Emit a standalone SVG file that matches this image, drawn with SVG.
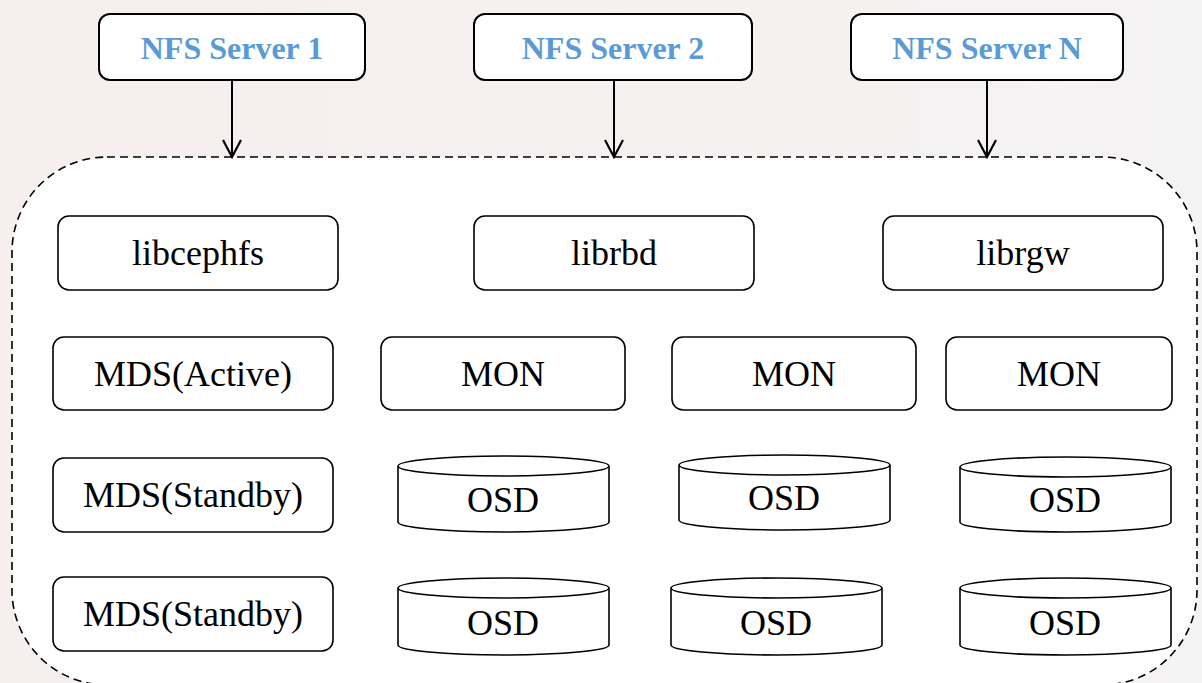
<svg xmlns="http://www.w3.org/2000/svg" width="1202" height="683" viewBox="0 0 1202 683">
<defs>
<linearGradient id="bg" x1="0" y1="0" x2="1" y2="0">
<stop offset="0" stop-color="#f7eeee"/>
<stop offset="1" stop-color="#f4f3f3"/>
</linearGradient>
<marker id="arr" viewBox="0 0 20 20" refX="18" refY="10" markerWidth="20" markerHeight="20" markerUnits="userSpaceOnUse" orient="auto">
<path d="M1,1 L18,10 L1,19" fill="none" stroke="#000" stroke-width="2.2"/>
</marker>
<style>
.box{fill:#fff;stroke:#000;stroke-width:1.6}
.srv{fill:#fff;stroke:#000;stroke-width:2}
.t{font-family:"Liberation Serif","DejaVu Serif",serif;font-size:36px;fill:#000;text-anchor:middle}
.s{font-family:"Liberation Serif","DejaVu Serif",serif;font-size:32px;font-weight:bold;fill:#5b9bd5;text-anchor:middle}
.cyl{fill:#fff;stroke:#000;stroke-width:1.6}
</style>
</defs>
<rect width="1202" height="683" fill="url(#bg)"/>
<g id="cluster">
<rect x="12" y="157" width="1185" height="528" rx="95" ry="95" fill="#fff" stroke="#000" stroke-width="1.6" stroke-dasharray="8,5"/>
</g>
<g id="connectors">
<line x1="232" y1="80" x2="232" y2="157" stroke="#000" stroke-width="2" marker-end="url(#arr)"/>
<line x1="614" y1="80" x2="614" y2="157" stroke="#000" stroke-width="2" marker-end="url(#arr)"/>
<line x1="987" y1="80" x2="987" y2="157" stroke="#000" stroke-width="2" marker-end="url(#arr)"/>
</g>
<g id="nfs1"><rect class="srv" x="99" y="14" width="266" height="66" rx="11"/><text class="s" x="232" y="59">NFS Server 1</text></g>
<g id="nfs2"><rect class="srv" x="474" y="14" width="278" height="66" rx="11"/><text class="s" x="613" y="59">NFS Server 2</text></g>
<g id="nfsN"><rect class="srv" x="851" y="14" width="272" height="66" rx="11"/><text class="s" x="987" y="59">NFS Server N</text></g>
<g id="libcephfs"><rect class="box" x="58" y="216" width="280" height="74" rx="11"/><text class="t" x="198" y="265">libcephfs</text></g>
<g id="librbd"><rect class="box" x="474" y="216" width="280" height="74" rx="11"/><text class="t" x="614" y="265">librbd</text></g>
<g id="librgw"><rect class="box" x="883" y="216" width="280" height="74" rx="11"/><text class="t" x="1023" y="265">librgw</text></g>
<g id="mds-active"><rect class="box" x="53" y="337" width="280" height="73" rx="11"/><text class="t" x="193" y="386">MDS(Active)</text></g>
<g id="mon1"><rect class="box" x="381" y="337" width="244" height="73" rx="11"/><text class="t" x="503" y="386">MON</text></g>
<g id="mon2"><rect class="box" x="672" y="337" width="244" height="73" rx="11"/><text class="t" x="794" y="386">MON</text></g>
<g id="mon3"><rect class="box" x="946" y="337" width="226" height="73" rx="11"/><text class="t" x="1059" y="386">MON</text></g>
<g id="mds-standby1"><rect class="box" x="53" y="458" width="280" height="74" rx="11"/><text class="t" x="193" y="507">MDS(Standby)</text></g>
<g id="mds-standby2"><rect class="box" x="53" y="577" width="280" height="74" rx="11"/><text class="t" x="193" y="626">MDS(Standby)</text></g>
<g id="osd1"><path class="cyl" d="M398,466 L398,522 A105.5,10 0 0 0 609,522 L609,466 A105.5,10 0 0 0 398,466 A105.5,10 0 0 0 609,466"/><text class="t" x="503" y="512">OSD</text></g>
<g id="osd2"><path class="cyl" d="M679,465 L679,520 A105.5,10 0 0 0 890,520 L890,465 A105.5,10 0 0 0 679,465 A105.5,10 0 0 0 890,465"/><text class="t" x="784" y="510">OSD</text></g>
<g id="osd3"><path class="cyl" d="M960,467 L960,522 A105.5,10 0 0 0 1171,522 L1171,467 A105.5,10 0 0 0 960,467 A105.5,10 0 0 0 1171,467"/><text class="t" x="1065" y="512">OSD</text></g>
<g id="osd4"><path class="cyl" d="M398,588 L398,645 A105.5,10 0 0 0 609,645 L609,588 A105.5,10 0 0 0 398,588 A105.5,10 0 0 0 609,588"/><text class="t" x="503" y="635">OSD</text></g>
<g id="osd5"><path class="cyl" d="M671,588 L671,645 A105.5,10 0 0 0 882,645 L882,588 A105.5,10 0 0 0 671,588 A105.5,10 0 0 0 882,588"/><text class="t" x="776" y="635">OSD</text></g>
<g id="osd6"><path class="cyl" d="M960,588 L960,645 A105.5,10 0 0 0 1171,645 L1171,588 A105.5,10 0 0 0 960,588 A105.5,10 0 0 0 1171,588"/><text class="t" x="1065" y="635">OSD</text></g>
</svg>
